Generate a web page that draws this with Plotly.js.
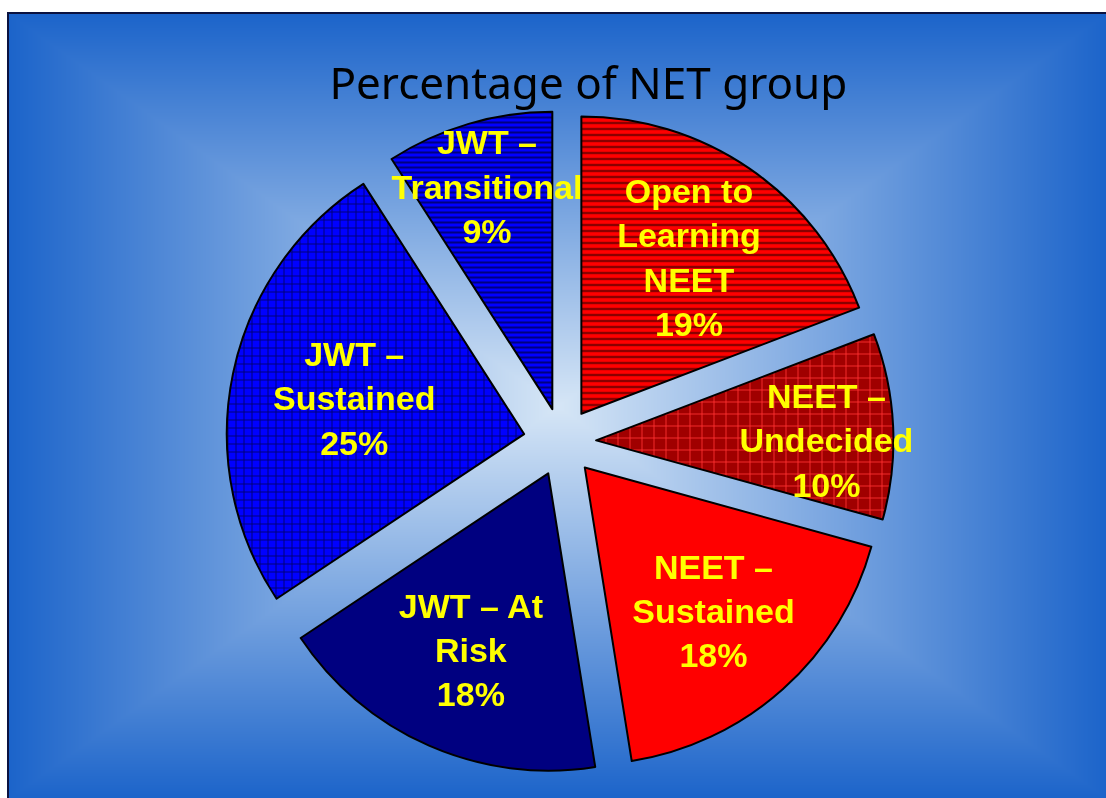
<!DOCTYPE html>
<html>
<head>
<meta charset="utf-8">
<script src="https://cdn.plot.ly/plotly-3.0.1.min.js"></script>
<style>
  html, body { margin: 0; padding: 0; background: #ffffff; }
  #wrap { position: relative; width: 1106px; height: 798px; overflow: hidden; }
  #bg { position: absolute; left: 7px; top: 12px; width: 1099px; height: 786px;
        border-left: 2px solid #0a1240; border-top: 2px solid #0a1240; box-sizing: border-box; }
  #chart { position: absolute; left: 0; top: 0; width: 1106px; height: 798px; }
</style>
</head>
<body>
<div id="wrap">
  <canvas id="bg"></canvas>
  <div id="chart"></div>
</div>
<script>
// ---- data ----
const categories = [
  "Open to<br>Learning<br>NEET",
  "NEET –<br>Undecided",
  "NEET –<br>Sustained",
  "JWT – At<br>Risk",
  "JWT –<br>Sustained",
  "JWT –<br>Transitional"
];
const percentages = [19, 10, 18, 18, 25, 9];
const chartTitle = "Percentage of NET group";

// ---- styles ----
const sliceColors = ["#ff0000", "#a00000", "#ff0000", "#000080", "#0000ff", "#0000ff"];
const patternShapes = ["-", "+", "", "", "+", "-"];
const patternFg = ["#8a0000", "#ff3030", "#ff0000", "#000080", "#000070", "#000080"];
const patternSize = [6, 12, 6, 6, 8, 5];
const patternSolidity = [0.4, 0.14, 0.3, 0.3, 0.22, 0.4];
const slicePull = [0.115, 0.115, 0.115, 0.115, 0.13, 0.115];

// ---- background: rectangular "from centre" gradient ----
(function () {
  const c = document.getElementById('bg');
  const W = 1097, H = 784;
  c.width = W; c.height = H;
  const ctx = c.getContext('2d');
  const img = ctx.createImageData(W, H);
  const cx = W / 2, cy = H / 2;
  const inner = [214, 230, 246], outer = [28, 100, 202];
  for (let y = 0; y < H; y++) {
    for (let x = 0; x < W; x++) {
      let t = Math.max(Math.abs(x - cx) / cx, Math.abs(y - cy) / cy);
      t = Math.min(1, t);
      const k = Math.pow(t, 1.0);
      const i = (y * W + x) * 4;
      img.data[i]     = inner[0] + (outer[0] - inner[0]) * k;
      img.data[i + 1] = inner[1] + (outer[1] - inner[1]) * k;
      img.data[i + 2] = inner[2] + (outer[2] - inner[2]) * k;
      img.data[i + 3] = 255;
    }
  }
  ctx.putImageData(img, 0, 0);
})();

const trace = {
  type: 'pie',
  labels: categories,
  values: percentages,
  sort: false,
  direction: 'clockwise',
  rotation: 0,
  pull: slicePull,
  texttemplate: '%{label}<br>%{value}%',
  textposition: 'inside',
  insidetextorientation: 'horizontal',
  insidetextfont: { family: '"Liberation Sans", Arial, sans-serif', size: 34, color: '#ffff00', weight: 'bold' },
  hoverinfo: 'label+value',
  showlegend: false,
  marker: {
    colors: sliceColors,
    line: { color: '#000000', width: 2 },
    pattern: {
      shape: patternShapes,
      fgcolor: patternFg,
      bgcolor: sliceColors,
      size: patternSize,
      solidity: patternSolidity,
      fillmode: 'replace'
    }
  },
  domain: { x: [0.2043, 0.8119], y: [0.0251, 0.8672] }
};

const layout = {
  width: 1106,
  height: 798,
  margin: { l: 0, r: 0, t: 0, b: 0 },
  paper_bgcolor: 'rgba(0,0,0,0)',
  plot_bgcolor: 'rgba(0,0,0,0)',
  uniformtext: { mode: 'show', minsize: 34 },
  title: {
    text: chartTitle,
    font: { family: '"Comic Sans MS", "Noto Sans", sans-serif', size: 44, color: '#000000' },
    x: 0.532, xanchor: 'center',
    y: 1 - 84 / 798, yref: 'container', yanchor: 'middle'
  },
  showlegend: false
};

Plotly.newPlot('chart', [trace], layout, { displayModeBar: false, staticPlot: true });
</script>
</body>
</html>
